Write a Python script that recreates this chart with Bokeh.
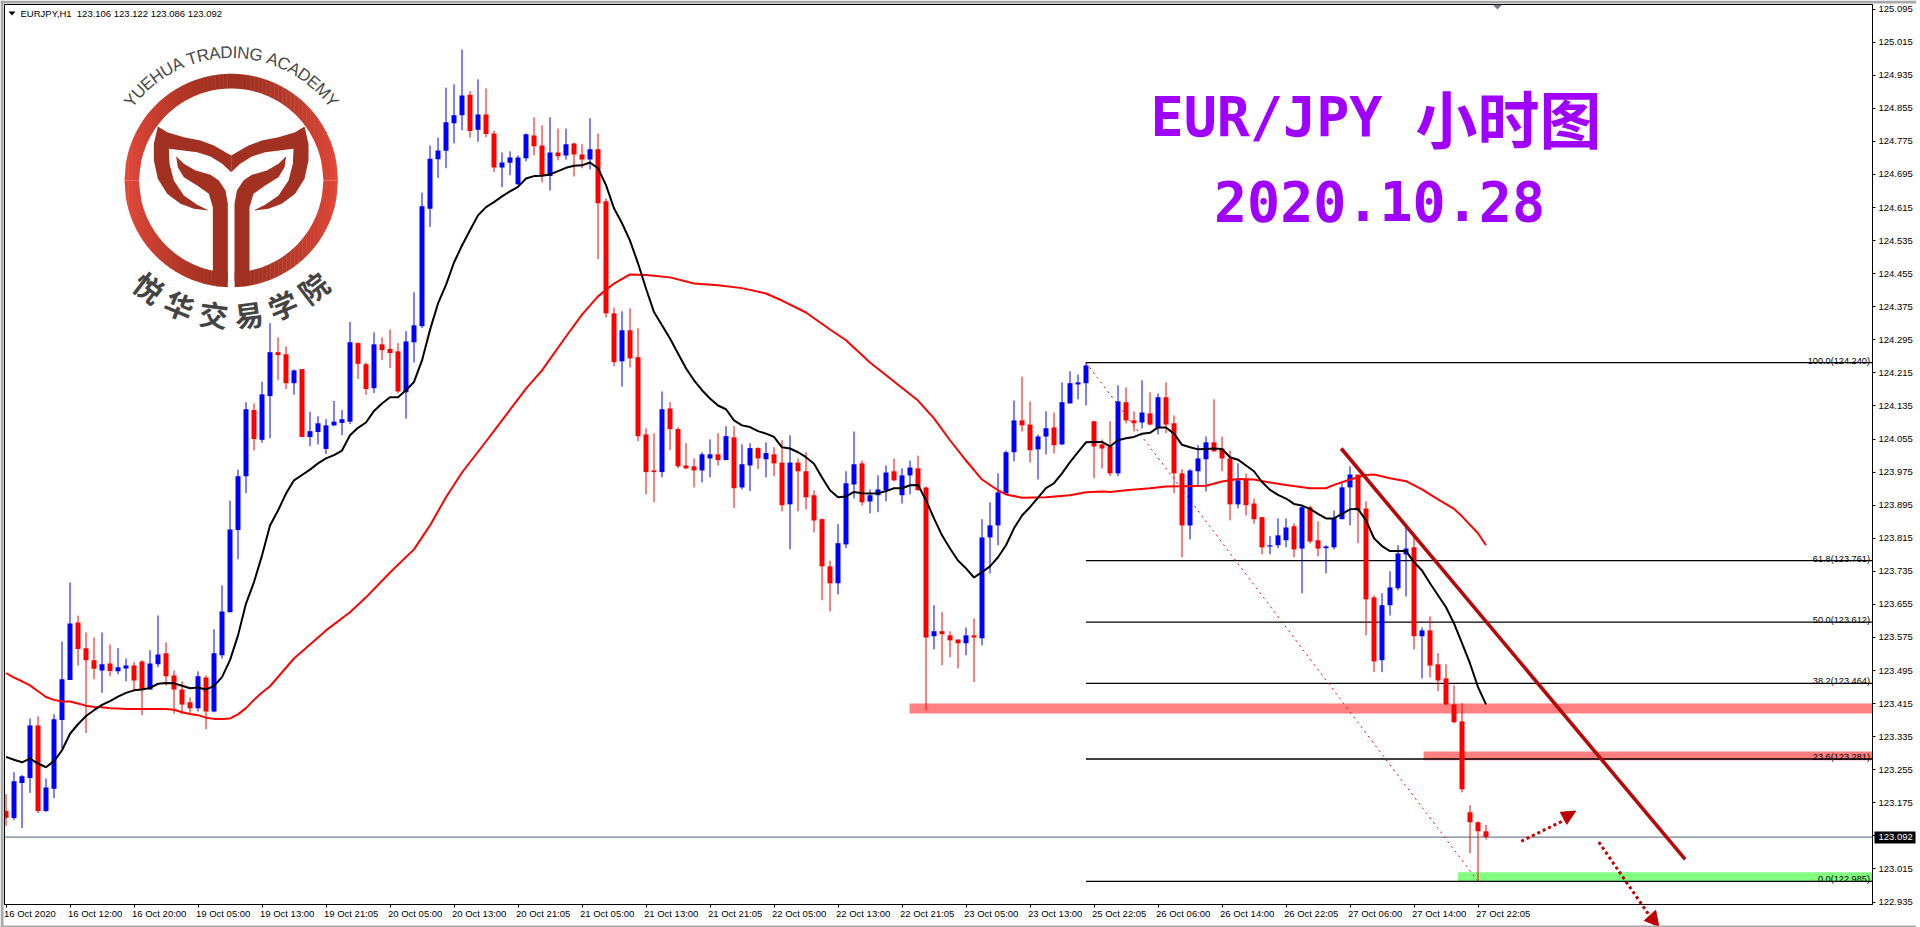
import numpy as np
from bokeh.plotting import figure
from bokeh.layouts import column
from bokeh.models import Range1d, FixedTicker, NumeralTickFormatter, ColumnDataSource
from bokeh.core.properties import value
from bokeh.embed import file_html
from bokeh.resources import INLINE

# ---- candles (EURJPY H1), left to right -------------------------------------------------
bar_high = [123.196,123.249,123.242,123.379,123.384,123.234,123.389,123.565,123.708,123.628,
 123.587,123.575,123.587,123.558,123.549,123.524,123.515,123.520,123.544,123.628,
 123.563,123.495,123.469,123.430,123.493,123.483,123.595,123.701,123.906,123.981,
 124.144,124.141,124.194,124.335,124.301,124.279,124.223,124.224,124.121,124.110,
 124.103,124.147,124.125,124.338,124.289,124.240,124.313,124.301,124.320,124.287,
 124.316,124.410,124.651,124.765,124.784,124.905,124.913,124.997,124.897,124.925,
 124.903,124.801,124.748,124.751,124.741,124.794,124.833,124.814,124.833,124.806,
 124.806,124.772,124.768,124.831,124.794,124.637,124.373,124.364,124.371,124.323,
 124.081,124.069,124.170,124.144,124.083,124.045,124.008,124.023,124.054,124.069,
 124.086,124.086,124.042,124.045,124.035,124.047,124.035,124.052,124.064,124.008,
 124.023,123.931,123.863,123.761,123.849,123.977,124.073,124.003,123.933,123.967,
 123.991,124.008,123.984,124.003,124.015,123.940,123.653,123.636,123.590,123.570,
 123.599,123.621,123.861,123.902,123.972,124.027,124.148,124.206,124.146,124.066,
 124.122,124.119,124.192,124.219,124.211,124.240,124.098,124.054,124.098,124.185,
 124.180,124.122,124.197,124.168,124.165,124.192,124.112,123.982,123.982,124.040,
 124.061,124.151,124.061,124.027,123.996,123.972,123.911,123.866,123.820,123.863,
 123.863,123.851,123.894,123.894,123.856,123.798,123.882,123.948,123.989,123.969,
 123.904,123.677,123.682,123.735,123.798,123.846,123.822,123.599,123.626,123.537,
 123.510,123.459,123.416,123.169,123.130,123.122]
bar_low = [123.119,123.133,123.114,123.199,123.150,123.153,123.186,123.306,123.472,123.507,
 123.344,123.474,123.441,123.481,123.486,123.469,123.447,123.387,123.449,123.503,
 123.459,123.391,123.389,123.391,123.396,123.353,123.394,123.524,123.636,123.764,
 123.924,124.027,124.046,124.057,124.197,124.176,124.162,124.060,124.038,124.042,
 124.019,124.086,124.064,124.091,124.200,124.162,124.166,124.246,124.227,124.166,
 124.104,124.240,124.323,124.568,124.686,124.710,124.770,124.802,124.784,124.774,
 124.785,124.701,124.664,124.693,124.669,124.727,124.741,124.676,124.656,124.729,
 124.731,124.690,124.710,124.707,124.490,124.349,124.231,124.182,124.228,124.050,
 123.921,123.902,123.962,124.028,123.984,123.982,123.938,123.950,123.962,123.991,
 124.004,123.888,123.933,123.929,123.982,123.962,123.965,123.880,123.788,123.880,
 123.885,123.829,123.665,123.638,123.679,123.791,123.911,123.894,123.875,123.878,
 123.904,123.953,123.899,123.921,123.931,123.399,123.546,123.508,123.527,123.500,
 123.532,123.467,123.556,123.730,123.798,123.923,124.001,124.073,123.998,123.957,
 124.018,124.020,124.040,124.141,124.151,124.136,123.960,123.984,123.965,123.965,
 124.093,124.073,124.081,124.088,124.066,124.069,123.924,123.769,123.812,123.943,
 123.928,124.025,123.977,123.858,123.887,123.870,123.850,123.776,123.776,123.791,
 123.793,123.769,123.682,123.802,123.771,123.730,123.788,123.861,123.846,123.803,
 123.580,123.491,123.491,123.628,123.689,123.674,123.546,123.476,123.478,123.445,
 123.411,123.367,123.200,123.053,122.985,123.086]
bar_open = [123.155,123.138,123.223,123.235,123.362,123.155,123.209,123.375,123.472,123.611,
 123.549,123.520,123.495,123.512,123.493,123.500,123.507,123.517,123.449,123.510,
 123.537,123.483,123.449,123.418,123.404,123.478,123.396,123.532,123.636,123.835,
 123.965,124.125,124.053,124.159,124.265,124.260,124.190,124.224,124.060,124.072,
 124.031,124.088,124.094,124.097,124.287,124.236,124.178,124.284,124.273,124.267,
 124.168,124.289,124.328,124.612,124.732,124.752,124.819,124.838,124.888,124.803,
 124.840,124.794,124.712,124.723,124.671,124.734,124.789,124.765,124.691,124.748,
 124.741,124.770,124.743,124.731,124.756,124.630,124.359,124.243,124.318,124.253,
 124.066,123.979,123.975,124.129,124.079,123.991,123.989,123.979,124.008,124.018,
 124.004,124.059,123.938,123.991,124.033,124.006,124.018,123.998,123.897,123.998,
 123.977,123.919,123.861,123.747,123.706,123.800,123.945,123.996,123.904,123.919,
 123.931,123.977,123.919,123.967,123.984,123.938,123.578,123.590,123.580,123.570,
 123.561,123.580,123.573,123.817,123.846,123.923,124.023,124.100,124.090,124.030,
 124.061,124.083,124.042,124.141,124.187,124.190,124.098,124.042,124.037,123.972,
 124.144,124.100,124.095,124.117,124.083,124.156,124.093,123.972,123.846,123.977,
 124.006,124.047,124.032,124.008,123.897,123.957,123.899,123.866,123.795,123.798,
 123.810,123.844,123.790,123.890,123.810,123.791,123.793,123.861,123.938,123.969,
 123.887,123.672,123.520,123.653,123.694,123.776,123.793,123.578,123.592,123.510,
 123.476,123.413,123.372,123.152,123.128,123.106]
bar_close = [123.139,123.227,123.239,123.362,123.155,123.212,123.377,123.474,123.609,123.547,
 123.520,123.499,123.510,123.494,123.503,123.507,123.471,123.449,123.512,123.534,
 123.481,123.449,123.413,123.404,123.481,123.396,123.537,123.638,123.836,123.965,
 124.127,124.055,124.163,124.265,124.258,124.190,124.221,124.060,124.074,124.093,
 124.088,124.097,124.103,124.289,124.237,124.176,124.284,124.270,124.263,124.170,
 124.291,124.330,124.618,124.733,124.753,124.821,124.838,124.886,124.800,124.840,
 124.793,124.712,124.724,124.736,124.736,124.792,124.763,124.693,124.748,124.739,
 124.768,124.743,124.731,124.756,124.625,124.359,124.241,124.318,124.250,124.062,
 123.975,123.975,124.127,124.079,123.989,123.984,123.979,124.018,124.018,124.004,
 124.062,123.936,123.994,124.033,124.008,124.021,123.996,123.895,123.998,123.977,
 123.914,123.858,123.747,123.706,123.803,123.948,123.994,123.902,123.919,123.933,
 123.974,123.955,123.967,123.986,123.931,123.575,123.590,123.583,123.568,123.561,
 123.580,123.575,123.817,123.846,123.926,124.023,124.100,124.088,124.028,124.061,
 124.081,124.040,124.144,124.190,124.192,124.233,124.037,124.032,123.972,124.146,
 124.100,124.093,124.119,124.090,124.156,124.090,123.972,123.846,123.979,124.008,
 124.047,124.025,124.008,123.897,123.955,123.895,123.861,123.793,123.798,123.822,
 123.841,123.788,123.890,123.807,123.790,123.795,123.863,123.938,123.969,123.882,
 123.667,123.517,123.653,123.696,123.778,123.790,123.578,123.592,123.507,123.471,
 123.413,123.370,123.208,123.128,123.106,123.092]

# ---- moving averages ----------------------------------------------------------------------
ma_black = [123.286,123.279,123.273,123.282,123.270,123.261,123.276,123.302,123.342,123.365,
 123.385,123.399,123.412,123.421,123.432,123.441,123.447,123.449,123.453,123.463,
 123.465,123.464,123.458,123.452,123.454,123.449,123.458,123.479,123.520,123.580,
 123.657,123.709,123.773,123.846,123.882,123.923,123.955,123.968,123.981,123.996,
 124.008,124.016,124.027,124.064,124.082,124.095,124.123,124.141,124.156,124.156,
 124.173,124.193,124.245,124.319,124.383,124.428,124.482,124.523,124.560,124.596,
 124.616,124.628,124.642,124.654,124.665,124.685,124.691,124.692,124.695,124.703,
 124.711,124.716,124.717,124.724,124.710,124.669,124.613,124.577,124.535,124.480,
 124.419,124.362,124.330,124.298,124.262,124.226,124.197,124.173,124.153,124.136,
 124.127,124.100,124.088,124.084,124.074,124.068,124.060,124.035,124.032,124.023,
 124.011,123.995,123.962,123.931,123.914,123.916,123.927,123.924,123.923,123.924,
 123.929,123.936,123.936,123.943,123.944,123.907,123.863,123.822,123.790,123.761,
 123.742,123.720,123.733,123.747,123.769,123.798,123.839,123.870,123.890,123.913,
 123.936,123.948,123.972,123.999,124.023,124.047,124.048,124.048,124.037,124.052,
 124.057,124.060,124.068,124.070,124.083,124.083,124.068,124.041,124.035,124.030,
 124.031,124.032,124.031,124.011,124.005,123.991,123.977,123.951,123.932,123.920,
 123.911,123.898,123.894,123.886,123.874,123.863,123.863,123.874,123.885,123.886,
 123.858,123.815,123.796,123.784,123.784,123.784,123.757,123.737,123.706,123.677,
 123.648,123.609,123.561,123.512,123.455,123.413]
ma_red_bar = [0,1,2,3,4,5,6,7,8,9,10,11,12,13,14,15,20,21,22,23,24,25,26,27,28,29,30,31,32,33,36,40,43,45,48,51,53,55,57,60,
 62,65,67,70,72,74,76,78,80,83,86,89,92,95,97,100,103,105,108,111,114,116,118,120,122,124,125,127,130,133,135,137,138,140,143,
 145,150,152,154,156,158,160,163,165,166,168,170,171,173,175,177,179,181,182,184,185]
ma_red = [123.489,123.478,123.469,123.459,123.445,123.431,123.424,123.420,123.420,123.415,123.410,123.407,123.406,123.404,123.403,
 123.402,123.402,123.400,123.394,123.390,123.387,123.381,123.378,123.378,123.379,123.389,123.404,123.424,123.442,123.457,123.524,
 123.592,123.636,123.672,123.732,123.788,123.846,123.914,123.974,124.049,124.100,124.177,124.221,124.303,124.356,124.400,124.431,
 124.453,124.452,124.446,124.431,124.427,124.420,124.407,124.390,124.361,124.320,124.294,124.240,124.194,124.148,124.105,124.052,
 124.003,123.957,123.931,123.921,123.913,123.914,123.919,123.926,123.928,123.927,123.931,123.936,123.940,123.942,123.952,123.958,
 123.957,123.950,123.944,123.936,123.936,123.944,123.957,123.968,123.969,123.960,123.953,123.933,123.909,123.886,123.868,123.827,123.798]

# ---- axes ---------------------------------------------------------------------------------
price_ticks = [125.095,125.015,124.935,124.855,124.775,124.695,124.615,124.535,124.455,124.375,124.295,124.215,124.135,
 124.055,123.975,123.895,123.815,123.735,123.655,123.575,123.495,123.415,123.335,123.255,123.175,123.095,123.015,122.935]
time_labels = ["16 Oct 2020","16 Oct 12:00","16 Oct 20:00","19 Oct 05:00","19 Oct 13:00","19 Oct 21:05","20 Oct 05:00",
 "20 Oct 13:00","20 Oct 21:05","21 Oct 05:00","21 Oct 13:00","21 Oct 21:05","22 Oct 05:00","22 Oct 13:00","22 Oct 21:05",
 "23 Oct 05:00","23 Oct 13:00","25 Oct 22:05","26 Oct 06:00","26 Oct 14:00","26 Oct 22:05","27 Oct 06:00","27 Oct 14:00","27 Oct 22:05"]
time_bars = [8 * k for k in range(len(time_labels))]

# ---- drawings on the chart ------------------------------------------------------------------
fib_levels = [124.240, 123.761, 123.612, 123.464, 123.281, 122.985]
fib_labels = ["100.0(124.240)", "61.8(123.761)", "50.0(123.612)", "38.2(123.464)", "23.6(123.281)", "0.0(122.985)"]
fib_bar_start = 135
fib_bar_end = 184
last_price = 123.092
pink_zone_bar = [112.94, 177.2]
pink_zone_top = [123.415, 123.299]
pink_zone_bottom = [123.391, 123.278]
green_zone_bar = [181.5]
green_zone_top = [123.007]
green_zone_bottom = [122.985]
trend_bar = [166.9, 209.9]
trend_price = [124.032, 123.038]
up_arrow_bar = [189.4, 195.0]
up_arrow_price = [123.082, 123.135]
up_head_bar = [196.2, 194.3, 195.1]
up_head_price = [123.155, 123.152, 123.123]
down_arrow_bar = [199.1, 205.4]
down_arrow_price = [123.080, 122.903]
down_head_bar = [206.6, 204.8, 206.2]
down_head_price = [122.876, 122.890, 122.915]

# window geometry: 8 px per bar, 413.4 px per yen
PAGE_W, PAGE_H = 1920, 927
FRAME_L, FRAME_T, FRAME_W, FRAME_H = 4, 4, 1868, 900
PX_PER_BAR, PX_PER_YEN = 8, 413.4
x0 = -0.1875
x1 = x0 + FRAME_W / PX_PER_BAR
ylow, yhigh = 122.929, 122.929 + FRAME_H / PX_PER_YEN

FONT = "Liberation Sans"
AXFS = "9.5px"
p = figure(frame_width=FRAME_W, frame_height=FRAME_H, output_backend="svg", toolbar_location=None,
           x_range=Range1d(x0, x1), y_range=Range1d(ylow, yhigh), y_axis_location="right",
           min_border_left=FRAME_L, min_border_top=FRAME_T, min_border_right=48, min_border_bottom=23,
           background_fill_color="white", border_fill_color="white", outline_line_color="black")
p.grid.visible = False
p.extra_x_ranges = {"px": Range1d(FRAME_L, FRAME_L + FRAME_W)}
p.extra_y_ranges = {"py": Range1d(FRAME_T + FRAME_H, FRAME_T)}

ya = p.yaxis[0]
ya.ticker = FixedTicker(ticks=price_ticks)
ya.formatter = NumeralTickFormatter(format="0.000")
ya.major_label_text_font = FONT
ya.major_label_text_font_size = AXFS
ya.major_label_text_color = "black"
ya.major_tick_out = 3
ya.major_tick_in = 0
ya.minor_tick_out = 0
ya.minor_tick_in = 0
ya.major_label_standoff = 3
ya.axis_line_color = "black"

xa = p.xaxis[0]
xa.ticker = FixedTicker(ticks=time_bars)
xa.major_label_overrides = {b: "" for b in time_bars}
xa.major_tick_out = 3
xa.major_tick_in = 0
xa.minor_tick_out = 0
xa.minor_tick_in = 0
xa.axis_line_color = "black"

# zones under everything
p.quad(left=pink_zone_bar, right=[x1] * 2, top=pink_zone_top, bottom=pink_zone_bottom, fill_color="#ff8080", line_color=None)
p.quad(left=green_zone_bar, right=[x1], top=green_zone_top, bottom=green_zone_bottom, fill_color="#80ff80", line_color=None)

# fibonacci + last price
p.segment(x0=[fib_bar_start] * 6, x1=[x1] * 6, y0=fib_levels, y1=fib_levels, line_color="black", line_width=1.3)
p.line([x0, x1], [last_price, last_price], line_color="#708090", line_width=1.3)
p.line([fib_bar_start, fib_bar_end], [fib_levels[0], fib_levels[-1]], line_color="#ff0000", line_width=1, line_dash="2 4")
p.text(x=[1869.5] * 6, y=fib_levels, text=fib_labels, x_range_name="px", y_offset=-2, text_align="right",
       text_baseline="alphabetic", text_font=value(FONT), text_font_size="9.2px", text_color="black")

# candles
bars = np.arange(len(bar_open))
o, c = np.array(bar_open), np.array(bar_close)
cols = ["#0000ff" if cc > oo else "#ff0000" for oo, cc in zip(o, c)]
src = ColumnDataSource(dict(x=bars, hi=bar_high, lo=bar_low, top=np.maximum(o, c), bot=np.minimum(o, c), col=cols))
p.segment(x0="x", x1="x", y0="hi", y1="lo", line_color="col", line_width=1, source=src)
p.vbar(x="x", width=0.625, top="top", bottom="bot", fill_color="col", line_color=None, source=src)

# moving averages
p.line(ma_red_bar, ma_red, line_color="#ff0000", line_width=2)
p.line(bars, ma_black, line_color="#000000", line_width=2)

# trend line
p.line(trend_bar, trend_price, line_color="#b40a0a", line_width=3.6)

# header
p.text(x=[20], y=[12.5], text=["EURJPY,H1\u00a0\u00a0123.106 123.122 123.086 123.092"], x_range_name="px", y_range_name="py",
       text_baseline="middle", text_font=value(FONT), text_font_size=AXFS, text_color="black")
p.patch([8, 15, 11.5], [11, 11, 15], x_range_name="px", y_range_name="py", fill_color="black", line_color=None)
p.patch([1492, 1502, 1497], [4, 4, 9], x_range_name="px", y_range_name="py", fill_color="#708090", line_color=None)

# purple title
p.text(x=[1266, 1379], y=[116, 200], text=["EUR/JPY", "2020.10.28"], x_range_name="px", y_range_name="py",
       text_align="center", text_baseline="middle", text_font=value("DejaVu Sans Mono"), text_font_style="bold",
       text_font_size="55px", text_color="#a000ff")
p.text(x=[1508], y=[116], text=["小时图"], x_range_name="px", y_range_name="py",
       text_align="center", text_baseline="middle", text_font=value("Noto Sans CJK SC"), text_font_style="bold",
       text_font_size="62px", text_color="#a000ff")

# ---- logo ---------------------------------------------------------------------------------
LOGO_X, LOGO_Y, LOGO_R, LOGO_r = 230.7, 180.0, 106.7, 92.0
LOGO_GAP = 3.4
logo_band = [(172,228),(200,245),(250,260),(300,270),(340,285),(392,315),(392,365),(365,340),(330,318),(290,305),(205,295),
 (207,340),(220,390),(250,435),(290,463),(325,480),(280,475),(240,460),(200,430),(172,385),(160,330),(160,280)]
logo_leaf = [(227,317),(250,340),(285,360),(330,373),(355,390),(375,420),(382,460),(382,690),(372,704),(350,708),(337,700),
 (337,470),(325,430),(290,405),(250,380),(232,350)]

def lerp_col(t):
    a, b = np.array([160, 48, 32]), np.array([228, 74, 58])
    r, g, bl = (a + (b - a) * t ** 1.5).astype(int)
    return f"#{r:02x}{g:02x}{bl:02x}"

sx, sy, sc = [], [], []
edges = np.linspace(LOGO_GAP, LOGO_R, 27)
def arc(x, rad):
    return np.sqrt(np.clip(rad ** 2 - x ** 2, 0, None))
for a, b in zip(edges[:-1], edges[1:]):
    t = np.linspace(a, min(b + 0.4, LOGO_R), 4)
    col = lerp_col(a / LOGO_R)
    for sgn in (-1, 1):
        for vs in (-1, 1):
            sx.append(list(LOGO_X + sgn * t) + list(LOGO_X + sgn * t[::-1]))
            sy.append(list(LOGO_Y + vs * arc(t, LOGO_R)) + list(LOGO_Y + vs * arc(t[::-1], LOGO_r)))
            sc.append(col)
t = np.linspace(-LOGO_GAP - 0.4, LOGO_GAP + 0.4, 5)
sx.append(list(LOGO_X + t) + list(LOGO_X + t[::-1]))
sy.append(list(LOGO_Y - arc(t, LOGO_R)) + list(LOGO_Y - arc(t[::-1], LOGO_r)))
sc.append(lerp_col(0))
p.patches(xs="x", ys="y", fill_color="c", line_color=None, x_range_name="px", y_range_name="py",
          source=ColumnDataSource(dict(x=sx, y=sy, c=sc)))

lx, ly = [], []
for shape in (logo_band, logo_leaf):
    zx = np.array([q[0] for q in shape], float)
    zy = np.array([q[1] for q in shape], float)
    lx.append(100 + zx / 3); ly.append(50 + zy / 3)
    lx.append(100 + (784 - zx) / 3); ly.append(50 + zy / 3)
p.patches(xs=[list(v) for v in lx], ys=[list(v) for v in ly], fill_color="#a33122", line_color=None,
          x_range_name="px", y_range_name="py")

logo_en = "YUEHUA TRADING ACADEMY"
logo_en_w = [.67,.72,.67,.72,.72,.67,.28,.61,.72,.67,.72,.28,.72,.78,.28,.67,.72,.67,.72,.67,.83,.67]
fs, Rt = 17, 128
w = np.array(logo_en_w) * fs
pos = np.cumsum(w) - w / 2 - w.sum() / 2
th = pos / Rt
p.text(x=LOGO_X + Rt * np.sin(th), y=LOGO_Y - Rt * np.cos(th), text=list(logo_en), angle=-th, x_range_name="px", y_range_name="py",
       text_align="center", text_baseline="middle", text_font=value("Liberation Sans"), text_font_size=f"{fs}px", text_color="#4a4a4a")

logo_cn = list("悦华交易学院")
logo_cn_deg = [-37.5, -22.5, -7.5, 7.5, 22.5, 37.5]
thc = np.radians(logo_cn_deg)
Rc = 134
p.text(x=LOGO_X + Rc * np.sin(thc), y=LOGO_Y + Rc * np.cos(thc), text=logo_cn, angle=thc, x_range_name="px", y_range_name="py",
       text_align="center", text_baseline="middle", text_font=value("Noto Sans CJK SC"), text_font_style="bold",
       text_font_size="29px", text_color="#444444")

# ---- transparent overlay over the whole window, same bar/price scale, for what sits outside the chart frame ----
ov = figure(frame_width=PAGE_W, frame_height=PAGE_H, output_backend="svg", toolbar_location=None,
            x_range=Range1d(x0 - FRAME_L / PX_PER_BAR, x0 + (PAGE_W - FRAME_L) / PX_PER_BAR),
            y_range=Range1d(ylow - (PAGE_H - FRAME_T - FRAME_H) / PX_PER_YEN, yhigh + FRAME_T / PX_PER_YEN),
            x_axis_location=None, y_axis_location=None,
            min_border_left=0, min_border_right=0, min_border_top=0, min_border_bottom=0,
            background_fill_color=None, border_fill_color=None, outline_line_color=None)
ov.grid.visible = False
ov.margin = (-PAGE_H, 0, 0, -FRAME_L)
ov.extra_x_ranges = {"wx": Range1d(0, PAGE_W)}
ov.extra_y_ranges = {"wy": Range1d(PAGE_H, 0)}

# time labels: left-aligned just after their ticks
ov.text(x=time_bars, y=[ylow] * len(time_bars), text=time_labels, x_offset=-2, y_offset=3.5, text_align="left", text_baseline="top",
        text_font=value(FONT), text_font_size=AXFS, text_color="black")

# hand-drawn dotted arrows
for xa_, ya_, hx, hy in [(up_arrow_bar, up_arrow_price, up_head_bar, up_head_price),
                         (down_arrow_bar, down_arrow_price, down_head_bar, down_head_price)]:
    ov.line(xa_, ya_, line_color="#c00000", line_width=3, line_dash="3 3")
    ov.patch(hx, hy, fill_color="#c00000", line_color="#c00000")

# last-price tag on the axis
ov.quad(left=[1874], right=[1915], top=[831], bottom=[843], x_range_name="wx", y_range_name="wy", fill_color="black", line_color=None)
ov.text(x=[1878], y=[last_price], text=["123.092"], x_range_name="wx", text_baseline="middle", text_color="white",
        text_font=value(FONT), text_font_size=AXFS)

# window chrome
ov.quad(left=[0, 0, 1918, 0], right=[PAGE_W, 3, PAGE_W, PAGE_W], top=[0, 0, 0, 925], bottom=[3, PAGE_H, PAGE_H, PAGE_H],
        x_range_name="wx", y_range_name="wy", fill_color="#a8a8a8", line_color=None)

page = column(p, ov, spacing=0)
open("out.html", "w").write(file_html(page, INLINE))
